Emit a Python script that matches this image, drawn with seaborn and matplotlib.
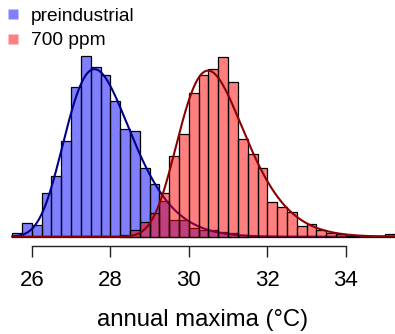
import numpy as np
import pandas as pd
import matplotlib
matplotlib.use("Agg")
import matplotlib.pyplot as plt
from matplotlib.lines import Line2D
import seaborn as sns

# ---- data -------------------------------------------------------------
bin_width = 0.25

# preindustrial climate: histogram densities, first bin starts at 25.5 °C
preind_first_edge = 25.5
preind_density = [0.009, 0.037, 0.032, 0.120, 0.167, 0.265, 0.414, 0.498,
                  0.467, 0.446, 0.375, 0.296, 0.292, 0.189, 0.145, 0.099,
                  0.046, 0.046, 0.025, 0.018, 0.018, 0.014, 0.009, 0.005]

# 700 ppm climate: histogram densities, first bin starts at 28.25 °C
ppm700_first_edge = 28.25
ppm700_density = [0.005, 0.018, 0.041, 0.065, 0.120, 0.223, 0.283, 0.396,
                  0.446, 0.462, 0.495, 0.426, 0.269, 0.227, 0.189, 0.097,
                  0.081, 0.069, 0.030, 0.035, 0.018, 0.009, 0.007, 0.003,
                  0.0, 0.0, 0.0, 0.007]

# fitted GEV parameters (location, scale, shape)
preind_gev = (27.51, 0.80, -0.10)
ppm700_gev = (30.405, 0.807, -0.10)

series_labels = ["preindustrial", "700 ppm"]
x_ticks = [26, 28, 30, 32, 34]
x_label = "annual maxima (\u00b0C)"


def gev_pdf(x, loc, scale, shape):
    z = (x - loc) / scale
    arg = 1.0 + shape * z
    out = np.zeros_like(x)
    ok = arg > 0
    t = arg[ok] ** (-1.0 / shape)
    out[ok] = (1.0 / scale) * t ** (shape + 1.0) * np.exp(-t)
    return out


def hist_frame(first_edge, dens):
    n = len(dens)
    edges = first_edge + bin_width * np.arange(n + 1)
    centers = edges[:-1] + bin_width / 2
    return pd.DataFrame({"temp": centers, "density": dens}), edges.tolist()


pre_df, pre_edges = hist_frame(preind_first_edge, preind_density)
hot_df, hot_edges = hist_frame(ppm700_first_edge, ppm700_density)

grid = np.linspace(25.5, 35.5, 600)
pre_curve = pd.DataFrame({"temp": grid, "density": gev_pdf(grid, *preind_gev)})
hot_curve = pd.DataFrame({"temp": grid, "density": gev_pdf(grid, *ppm700_gev)})

# ---- style ------------------------------------------------------------
sns.set_style("white")
plt.rcParams["font.family"] = ["Liberation Sans", "DejaVu Sans"]
plt.rcParams["text.color"] = "black"
plt.rcParams["axes.labelcolor"] = "black"

blue_fill = "#0000FF"
red_fill = "#FF0000"

fig = plt.figure(figsize=(3.95, 3.34), dpi=100)
ax = fig.add_axes([0.0, 0.2635, 1.0, 0.7365])

sns.histplot(data=pre_df, x="temp", weights="density", bins=pre_edges,
             color=blue_fill, alpha=0.5, edgecolor="black", linewidth=0.9,
             zorder=1, ax=ax)
sns.lineplot(data=pre_curve, x="temp", y="density", color="#00008B",
             linewidth=1.5, zorder=2, ax=ax)
sns.histplot(data=hot_df, x="temp", weights="density", bins=hot_edges,
             color=red_fill, alpha=0.5, edgecolor="black", linewidth=0.9,
             zorder=3, ax=ax)
sns.lineplot(data=hot_curve, x="temp", y="density", color="#8B0000",
             linewidth=1.5, zorder=4, ax=ax)

ax.set_xlim(25.19, 35.25)
ax.set_ylim(-0.0257, 0.653)

for side in ["top", "right", "left"]:
    ax.spines[side].set_visible(False)
ax.spines["bottom"].set_bounds(x_ticks[0], x_ticks[-1])
ax.spines["bottom"].set_color("#222222")
ax.spines["bottom"].set_linewidth(1.0)

ax.set_xticks(x_ticks)
ax.set_xticklabels([str(t) for t in x_ticks])
ax.tick_params(axis="x", direction="out", length=7.7, width=1.0,
               color="#222222", pad=9.5, labelsize=16, labelcolor="black",
               bottom=True)
ax.set_yticks([])
ax.set_ylabel("")
ax.set_xlabel(x_label, fontsize=17.2, color="black")
ax.xaxis.set_label_coords(0.514, -0.326)
ax.xaxis.label.set_va("baseline")

handles = [Line2D([], [], linestyle="none", marker="s", markersize=6.5,
                  markerfacecolor="#8080FF", markeredgecolor="none"),
           Line2D([], [], linestyle="none", marker="s", markersize=6.5,
                  markerfacecolor="#FF8080", markeredgecolor="none")]
ax.legend(handles, series_labels, loc="upper left",
          bbox_to_anchor=(4.3 / 395, 0.971), frameon=False, fontsize=13.8,
          handlelength=0.95, handletextpad=0.435, borderpad=0,
          borderaxespad=0, labelspacing=0.38, labelcolor="black")

fig.savefig("out.png", dpi=100)
